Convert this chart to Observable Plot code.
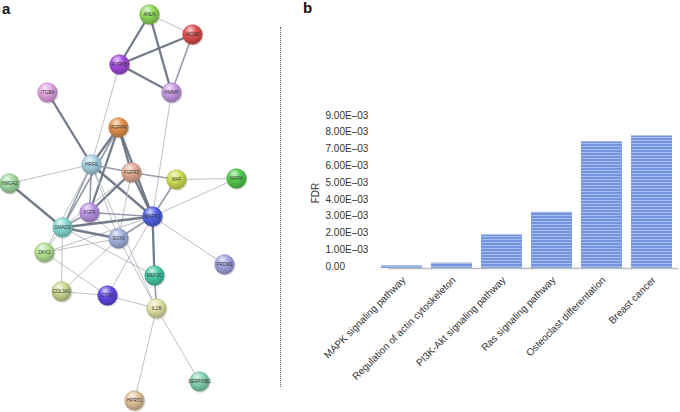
<!DOCTYPE html>
<html>
<head>
<meta charset="utf-8">
<script src="https://cdn.jsdelivr.net/npm/d3@7"></script>
<script src="https://cdn.jsdelivr.net/npm/@observablehq/plot@0.6"></script>
<style>
  html, body { margin: 0; padding: 0; background: #fff; }
  #wrap { position: relative; width: 680px; height: 412px; overflow: hidden; font-family: "Liberation Sans", Arial, sans-serif; }
  .plabel { position: absolute; font-weight: bold; font-size: 15px; color: #111; line-height: 1; }
  #divider { position: absolute; left: 280px; top: 27px; height: 360px; border-left: 1.2px dotted #666; }
  #pa { position: absolute; left: 0; top: 0; }
  #pb { position: absolute; left: 300px; top: 0; }
</style>
</head>
<body>
<div id="wrap">
  <div class="plabel" style="left:2px;top:1px;">a</div>
  <div class="plabel" style="left:303px;top:0px;">b</div>
  <div id="divider"></div>
  <div id="pa"></div>
  <div id="pb"></div>
</div>
<script>
// ---------- Panel a: protein interaction network ----------
const nodeNames  = ["ANLN","MCM2","AURKB","HMMR","ITGB4","FGFR4","HRAS","FGFR3","MAF","MAFA","HMGA2","FGF8","MAPK1","SMAD3","SOX9","DKK1","PRDM1","MEF2C","COL3A1","CTSK","IL1B","SERPINB2","HPRT1"];
const nodeX      = [149, 192, 119, 171, 47, 118, 91, 131, 176, 236, 9, 89, 152, 62, 118, 44, 224, 154, 61, 107, 156, 199, 134];
const nodeY      = [14, 34, 64, 92, 92, 127, 164, 172, 179, 178, 183, 212, 216, 227, 238, 252, 264, 275, 291, 295, 308, 381, 400];
const nodeColors = ["#8fd95a","#e05050","#a24be0","#c99ae6","#e3a3e3","#e3924f","#a6d3e3","#e3ab93","#d2df55","#52cc4e","#a3dba3","#bb95e6","#5262e3","#86dbd4","#a3b4e3","#b4e395","#a4a4e3","#45cca6","#cbdb93","#6247e3","#e3e3a3","#86d4b4","#e3c39b"];

const edgeFrom   = ["ANLN","ANLN","ANLN","MCM2","MCM2","AURKB","AURKB","HMMR","ITGB4","FGFR4","FGFR4","FGFR4","FGFR4","FGFR4","HRAS","HRAS","HRAS","HRAS","HRAS","HRAS","HRAS","FGFR3","FGFR3","FGFR3","FGFR3","FGFR3","MAF","MAF","MAFA","HMGA2","FGF8","FGF8","FGF8","MAPK1","MAPK1","MAPK1","MAPK1","MAPK1","MAPK1","SMAD3","SMAD3","SMAD3","SMAD3","SOX9","SOX9","SOX9","DKK1","COL3A1","CTSK","MEF2C","IL1B","IL1B","HRAS"];
const edgeTo     = ["MCM2","AURKB","HMMR","AURKB","HMMR","HMMR","HRAS","MAPK1","HRAS","HRAS","FGFR3","MAPK1","FGF8","SMAD3","HMGA2","FGFR3","MAPK1","SMAD3","FGF8","SOX9","DKK1","MAF","MAPK1","FGF8","SOX9","SMAD3","MAFA","MAPK1","MAPK1","SMAD3","MAPK1","SMAD3","SOX9","SMAD3","SOX9","PRDM1","MEF2C","CTSK","DKK1","SOX9","DKK1","COL3A1","MEF2C","DKK1","COL3A1","IL1B","CTSK","CTSK","IL1B","IL1B","SERPINB2","HPRT1","IL1B"];
const edgeWeight = [1,3,3,3,2,3,1,1,3,3,3,3,3,2,1,2,3,2,2,1,1,2,3,3,1,1,1,2,1,3,2,2,1,3,2,1,3,1,1,3,1,1,1,1,1,1,1,1,1,2,1,1,1];

const nodes = nodeNames.map((n, i) => ({name: n, x: nodeX[i], y: nodeY[i], color: nodeColors[i], id: i}));
const byName = Object.fromEntries(nodes.map(d => [d.name, d]));
const edges = edgeFrom.map((f, i) => ({
  x1: byName[f].x, y1: byName[f].y, x2: byName[edgeTo[i]].x, y2: byName[edgeTo[i]].y, w: edgeWeight[i]
}));

const edgeColor = {1: "#b9bcc4", 2: "#8f95a3", 3: "#6c7384"};
const edgeWidth = {1: 1, 2: 1.6, 3: 2.3};

function gradientDefs() {
  const defs = d3.create("svg:defs");
  nodes.forEach(d => {
    const c = d3.color(d.color);
    const g = defs.append("radialGradient").attr("id", "ng" + d.id)
      .attr("cx", "40%").attr("cy", "32%").attr("r", "70%").attr("fx", "38%").attr("fy", "25%");
    g.append("stop").attr("offset", "0%").attr("stop-color", d3.interpolateRgb(d.color, "#ffffff")(0.75));
    g.append("stop").attr("offset", "45%").attr("stop-color", d.color);
    g.append("stop").attr("offset", "100%").attr("stop-color", c.darker(0.9).formatHex());
  });
  return defs.node();
}

const plotA = Plot.plot({
  width: 260, height: 412,
  marginTop: 0, marginRight: 0, marginBottom: 0, marginLeft: 0,
  x: {domain: [0, 260], range: [0, 260], axis: null},
  y: {domain: [0, 412], range: [0, 412], axis: null},
  color: {type: "identity"},
  style: {fontFamily: "Liberation Sans, Arial, sans-serif", background: "transparent"},
  marks: [
    gradientDefs,
    Plot.link(edges, {x1: "x1", y1: "y1", x2: "x2", y2: "y2",
      stroke: d => edgeColor[d.w], strokeWidth: d => edgeWidth[d.w], strokeOpacity: 0.95}),
    Plot.dot(nodes, {x: "x", y: "y", r: 10.3, dx: 0.8, dy: 1.2, fill: "#000", fillOpacity: 0.12, stroke: "none"}),
    Plot.dot(nodes, {x: "x", y: "y", r: 9.8, fill: d => `url(#ng${d.id})`, stroke: d => d3.color(d.color).darker(0.6).formatHex(), strokeWidth: 0.6}),
    Plot.text(nodes, {x: "x", y: "y", text: "name", fontSize: 4.6, fill: "#333", stroke: "none"})
  ]
});
document.getElementById("pa").appendChild(plotA);

// ---------- Panel b: KEGG pathway FDR bar chart ----------
const pathways = ["MAPK signaling pathway","Regulation of actin cytoskeleton","PI3K-Akt signaling pathway","Ras signaling pathway","Osteoclast differentation","Breast cancer"];
const fdrValues = [0.00016, 0.00032, 0.0020, 0.00335, 0.00755, 0.0079];
const yTicks = [0, 0.001, 0.002, 0.003, 0.004, 0.005, 0.006, 0.007, 0.008, 0.009];
const yTickLabels = ["0.00","1.00E\u201303","2.00E\u201303","3.00E\u201303","4.00E\u201303","5.00E\u201303","6.00E\u201303","7.00E\u201303","8.00E\u201303","9.00E\u201303"];

const bars = pathways.map((p, i) => ({pathway: p, fdr: fdrValues[i]}));
const tickRows = yTicks.map((v, i) => ({v, label: yTickLabels[i]}));

function stripeDefs() {
  const defs = d3.create("svg:defs");
  const p = defs.append("pattern").attr("id", "stripes").attr("patternUnits", "userSpaceOnUse")
    .attr("width", 8).attr("height", 3);
  p.append("rect").attr("width", 8).attr("height", 3).attr("fill", "#7395dd");
  p.append("rect").attr("y", 2).attr("width", 8).attr("height", 1).attr("fill", "#a9bdec");
  return defs.node();
}

const plotB = Plot.plot({
  width: 380, height: 412,
  marginTop: 117, marginRight: 2, marginBottom: 144, marginLeft: 88,
  x: {domain: pathways, range: [69, 384], padding: 0.18},
  y: {domain: [0, 0.009], range: [268, 117]},
  style: {fontFamily: "Liberation Sans, Arial, sans-serif", fontSize: "10px", color: "#333", background: "transparent"},
  marks: [
    stripeDefs,
    Plot.barY(bars, {x: "pathway", y: "fdr", fill: "url(#stripes)"}),
    Plot.ruleY([0], {stroke: "#bdbdbd", strokeWidth: 1.5}),
    Plot.text(tickRows, {y: "v", text: "label", frameAnchor: "left", textAnchor: "start", dx: -63, dy: -2, fill: "#333", fontSize: 10}),
    Plot.axisY({ticks: yTicks, tickFormat: () => "", tickSize: 0, tickPadding: 0,
      label: "FDR", labelAnchor: "center", labelArrow: "none", labelOffset: 77, fill: "#333"}),
    Plot.axisX({tickRotate: -45, tickSize: 0, tickPadding: 10, dx: 2, label: null, fill: "#333"})
  ]
});
document.getElementById("pb").appendChild(plotB);
</script>
</body>
</html>
